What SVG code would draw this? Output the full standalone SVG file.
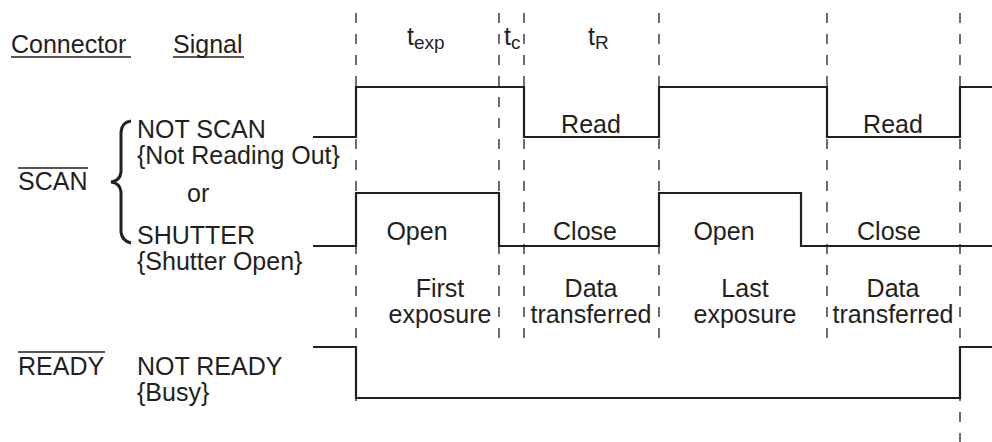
<svg xmlns="http://www.w3.org/2000/svg" width="992" height="442" viewBox="0 0 992 442">
<style>
text{font-family:"Liberation Sans",Arial,sans-serif;font-size:25px;fill:#231f20}
.m{text-anchor:middle}
.sig{fill:none;stroke:#231f20;stroke-width:2.2;stroke-linejoin:miter}
.dash{stroke:#231f20;stroke-width:1.3;stroke-dasharray:10 11}
.ln{stroke:#231f20;stroke-width:1.5}
</style>
<rect width="992" height="442" fill="#fff"/>
<g id="gridlines">
<line class="dash" x1="356" y1="13" x2="356" y2="410"/>
<line class="dash" x1="499" y1="13" x2="499" y2="345"/>
<line class="dash" x1="524" y1="13" x2="524" y2="345"/>
<line class="dash" x1="659" y1="13" x2="659" y2="345"/>
<line class="dash" x1="827" y1="13" x2="827" y2="345"/>
<line class="dash" x1="960" y1="13" x2="960" y2="442"/>
</g>
<g id="headers">
<text x="11" y="53">Connector</text>
<line class="ln" x1="11" y1="57" x2="131" y2="57"/>
<text x="173" y="53">Signal</text>
<line class="ln" x1="173" y1="57" x2="244" y2="57"/>
<text x="407" y="45">t<tspan font-size="19" dy="4">exp</tspan></text>
<text x="504" y="45">t<tspan font-size="19" dy="4">c</tspan></text>
<text x="588" y="45">t<tspan font-size="19" dy="4">R</tspan></text>
</g>
<g id="scan-label">
<text x="18" y="190">SCAN</text>
<line class="ln" x1="18" y1="168" x2="88" y2="168"/>
<path d="M131,121 Q122,122 121,132 L121,172 Q120,181 111,182 Q120,183 121,192 L121,232 Q122,241 131,243" fill="none" stroke="#231f20" stroke-width="3"/>
</g>
<g id="notscan">
<text x="137" y="138">NOT SCAN</text>
<text x="137" y="164">{Not Reading Out}</text>
<text x="187" y="202">or</text>
<polyline class="sig" points="313,137 356,137 356,87 524,87 524,137 659,137 659,87 827,87 827,137 960,137 960,87 992,87"/>
<text class="m" x="591" y="133">Read</text>
<text class="m" x="893" y="133">Read</text>
</g>
<g id="shutter">
<text x="137" y="244">SHUTTER</text>
<text x="137" y="270">{Shutter Open}</text>
<polyline class="sig" points="313,246 356,246 356,193 499,193 499,246 659,246 659,193 801,193 801,246 992,246"/>
<text class="m" x="417" y="240">Open</text>
<text class="m" x="585" y="240">Close</text>
<text class="m" x="724" y="240">Open</text>
<text class="m" x="889" y="240">Close</text>
</g>
<g id="phases">
<text class="m" x="440" y="297">First</text>
<text class="m" x="440" y="323">exposure</text>
<text class="m" x="591" y="297">Data</text>
<text class="m" x="591" y="323">transferred</text>
<text class="m" x="745" y="297">Last</text>
<text class="m" x="745" y="323">exposure</text>
<text class="m" x="893" y="297">Data</text>
<text class="m" x="893" y="323">transferred</text>
</g>
<g id="ready">
<text x="18" y="375">READY</text>
<line class="ln" x1="18" y1="352" x2="105" y2="352"/>
<text x="137" y="375">NOT READY</text>
<text x="137" y="401">{Busy}</text>
<polyline class="sig" points="313,347 356,347 356,398 960,398 960,347 992,347"/>
</g>
</svg>
